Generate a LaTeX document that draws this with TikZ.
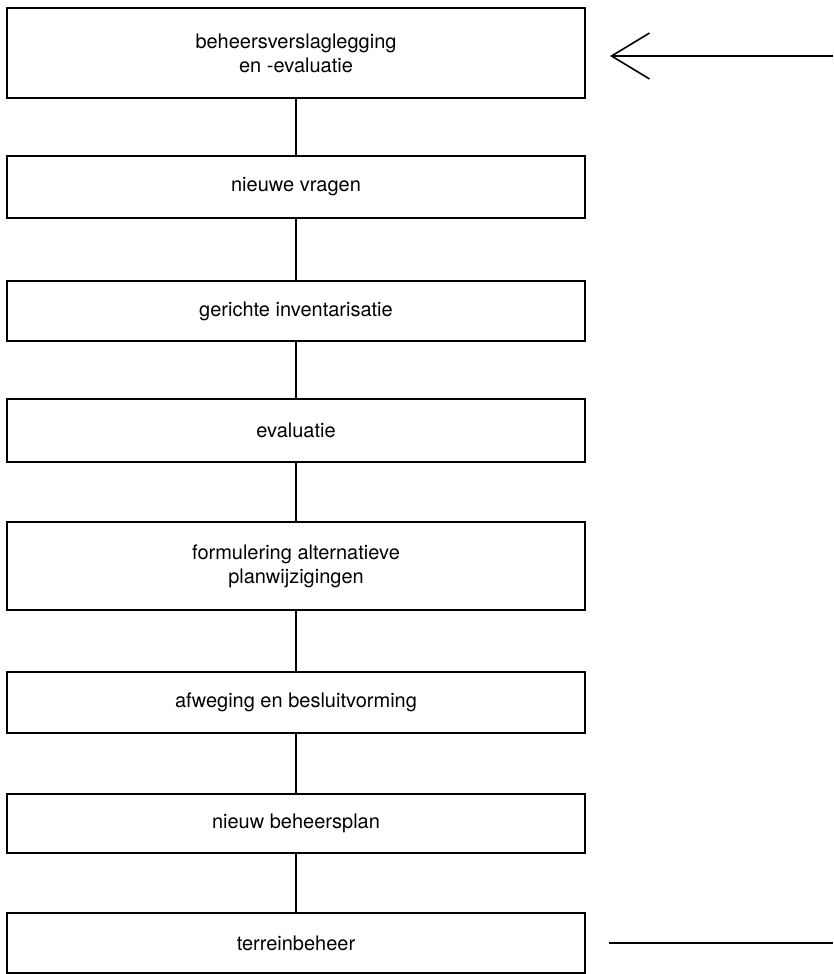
\documentclass[tikz,border=0pt]{standalone}
\usepackage{fontspec}
\setmainfont{TeX Gyre Heros}
\usetikzlibrary{arrows.meta}
\usetikzlibrary{positioning}
\tikzset{stap/.style = {draw, rectangle, line width = 1.8pt, minimum width = 578pt,
                        align = center, inner sep = 0,
                        font = \fontsize{20}{24}\selectfont}}
\tikzset{lijn/.style = {line width = 1.4pt}}
\tikzset{pijl/.style = {line width = 1.6pt, -{Straight Barb[length = 38pt, width = 46pt, line width = 1.6pt]}}}

\begin{document}
\begin{tikzpicture}[x = 1pt, y = -1pt]
      \useasboundingbox (0, 0) rectangle (833, 974);

      \node [stap, minimum height = 90pt] (verslag) at (296, 53) {beheersverslaglegging\\en -evaluatie};
      \node [stap, minimum height = 62pt] (vragen) at (296, 187) {nieuwe vragen};
      \node [stap, minimum height = 60pt] (invent) at (296, 311) {gerichte inventarisatie};
      \node [stap, minimum height = 63pt] (eval) at (296, 430.5) {evaluatie};
      \node [stap, minimum height = 88pt] (formul) at (296, 566) {formulering alternatieve\\planwijzigingen};
      \node [stap, minimum height = 61pt] (afweg) at (296, 702.5) {afweging en besluitvorming};
      \node [stap, minimum height = 59pt] (plan) at (296, 823.5) {nieuw beheersplan};
      \node [stap, minimum height = 60pt] (terrein) at (296, 943) {terreinbeheer};

      \coordinate (in1) at (833, 56);
      \coordinate (in2) at (610, 56);
      \coordinate (uit1) at (609, 943);
      \coordinate (uit2) at (833, 943);

      \draw [lijn] (verslag) -- (vragen);
      \draw [lijn] (vragen) -- (invent);
      \draw [lijn] (invent) -- (eval);
      \draw [lijn] (eval) -- (formul);
      \draw [lijn] (formul) -- (afweg);
      \draw [lijn] (afweg) -- (plan);
      \draw [lijn] (plan) -- (terrein);

      % terugkoppeling
      \draw [pijl] (in1) -- (in2);
      \draw [lijn] (uit1) -- (uit2);
    \end{tikzpicture}
\end{document}
